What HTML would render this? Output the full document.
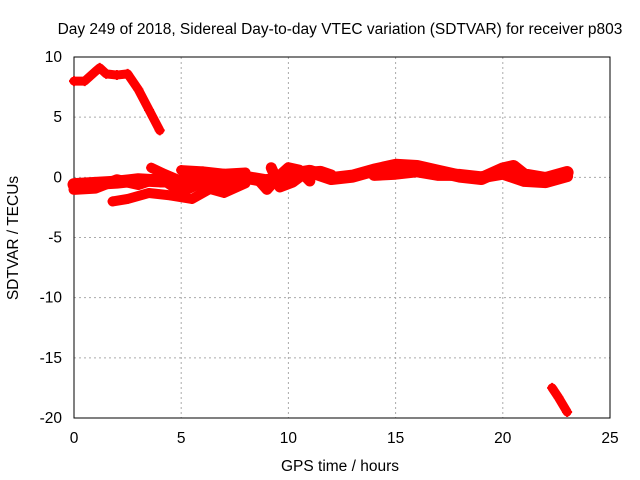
<!DOCTYPE html>
<html><head><meta charset="utf-8"><style>
body{margin:0;background:#fff}
svg{display:block;font-family:"Liberation Sans",sans-serif;font-size:15.5px}
</style></head><body>
<svg width="640" height="480">
<g id="grid"></g>
<rect x="74" y="57" width="536" height="361" fill="none" stroke="#000"/>
<g id="ticks"></g>
<g id="marks"></g>
<text x="340" y="34" text-anchor="middle">Day 249 of 2018, Sidereal Day-to-day VTEC variation (SDTVAR) for receiver p803</text>
<text x="340" y="471" text-anchor="middle">GPS time / hours</text>
<text transform="translate(18,238) rotate(-90)" text-anchor="middle">SDTVAR / TECUs</text>
</svg>
<script>
const xTicks=[0,5,10,15,20,25];
const yTicks=[10,5,0,-5,-10,-15,-20];
const trackA=[[0,8],[0.5,8],[1,8.8],[1.2,9.1],[1.5,8.6],[2,8.5],[2.5,8.6],[3,7.3],[3.5,5.6],[4,3.9]];
const trackB=[[0,-0.6],[1,-0.5],[2,-0.4],[3,-0.2],[4,-0.3],[5,-0.3],[6,0.2],[7,0.1],[8,0],[9,-0.3],[10,0.2],[11,0.5],[12,-0.1],[13,0.1],[14,0.6],[15,1.0],[16,0.9],[17,0.5],[18,0.1],[19,-0.1],[20,0.7],[20.5,0.9],[21,0.2],[22,-0.1],[23,0.4]];
const trackC=[[1.8,-2],[2.5,-1.8],[3.5,-1.3],[4.5,-1.5],[5.5,-1.8],[6.5,-0.8],[7.5,-0.3],[8,-0.1]];
const trackD=[[3.6,0.8],[4.2,0.3],[5,-0.3],[6,-0.8],[7,-1.3],[8,-0.5]];
const trackE=[[5,0.6],[6,0.5],[7,0.3],[8,0.4]];
const trackF=[[14,0.2],[15,0.3],[16,0.5],[17,0.2],[18,0.2],[19,0],[20,0.3],[21,-0.3],[22,-0.4],[23,0.1]];
const trackG=[[22.3,-17.5],[22.6,-18.3],[23,-19.5]];
const trackH=[[8.6,-0.2],[9,-1],[9.5,0],[10,0.8],[10.5,0.6],[11,-0.3]];
const trackI=[[0,-1],[1,-0.9],[2,-0.2],[3,-0.6],[4,0],[5,-1.2],[6,-0.4],[7,-0.6]];
const trackJ=[[9.2,0.8],[9.6,-0.8],[10.2,-0.4],[10.8,0.4],[11.5,0.5],[12,0.2]];
const tracks=[trackA,trackB,trackC,trackD,trackE,trackF,trackG,trackH,trackI,trackJ];
const widths=[9,13,10,10,10,12,9,11,11,11];
const NS="http://www.w3.org/2000/svg";
const X=v=>74+v*536/25, Y=v=>57+(10-v)*361/30;
function mk(t,a,p){const e=document.createElementNS(NS,t);for(const k in a)e.setAttribute(k,a[k]);p.appendChild(e);return e;}
const grid=document.getElementById('grid'),ticks=document.getElementById('ticks'),marks=document.getElementById('marks');
xTicks.forEach(t=>{
 if(t>0&&t<25){const g=mk('line',{x1:X(t),x2:X(t),y1:57,y2:418,stroke:'#aaa','stroke-dasharray':'2,3'},grid);
 
 }
 const l=mk('text',{x:X(t),y:443,'text-anchor':'middle'},ticks);l.textContent=t;
 
 
});
yTicks.forEach(t=>{
 if(t<10&&t>-20){const g=mk('line',{x1:74,x2:610,y1:Y(t),y2:Y(t),stroke:'#aaa','stroke-dasharray':'2,3'},grid);
 
 }
 const l=mk('text',{x:62,y:Y(t)+5,'text-anchor':'end'},ticks);l.textContent=t;
 
 
});
tracks.forEach((tr,i)=>{
 const p=mk('polyline',{points:tr.map(d=>X(d[0])+','+Y(d[1])).join(' '),fill:'none',stroke:'#f00','stroke-width':widths[i],'stroke-linejoin':'round','stroke-linecap':'round'},marks);
 
 
 tr.forEach(d=>{const m=mk('path',{d:`M${X(d[0])-5},${Y(d[1])}h10M${X(d[0])},${Y(d[1])-5}v10`,stroke:'#f00','stroke-width':2},marks);
  
  });
});
</script>
</body></html>
